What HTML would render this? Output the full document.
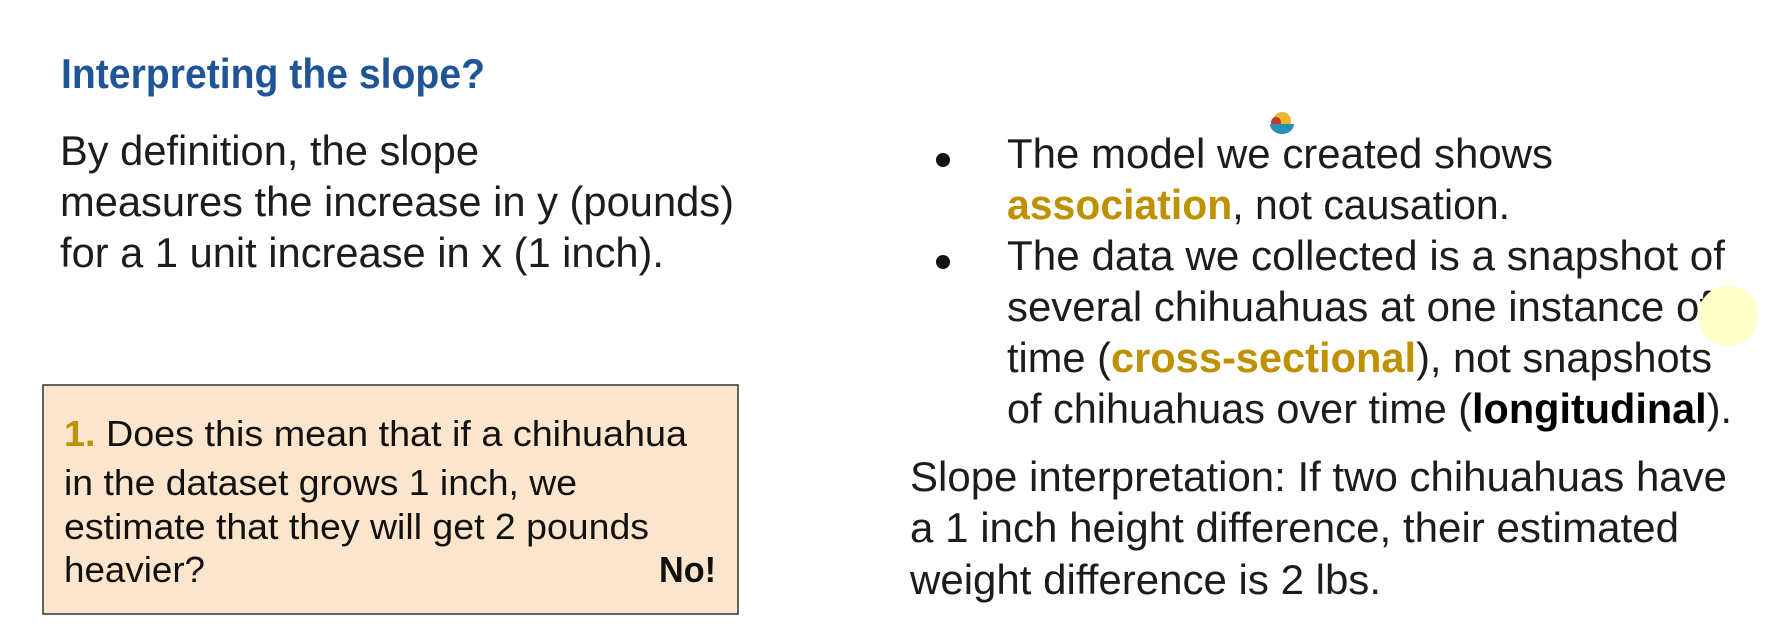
<!DOCTYPE html>
<html><head><meta charset="utf-8"><style>
html,body{margin:0;padding:0;background:#fff;}
svg{display:block;}
text{font-family:"Liberation Sans",sans-serif;}
.b{font-size:42px;fill:#1c1c1c;}
.s{font-size:36px;fill:#111;}
</style></head><body>
<svg width="1780" height="636" viewBox="0 0 1780 636">
<rect width="1780" height="636" fill="#fff"/>
<text x="61" y="88" font-size="42" font-weight="bold" fill="#1f5596" textLength="424" lengthAdjust="spacingAndGlyphs">Interpreting the slope?</text>
<g>
<text class="b" x="60" y="165" textLength="419" lengthAdjust="spacingAndGlyphs">By definition, the slope</text>
<text class="b" x="60" y="216" textLength="674" lengthAdjust="spacingAndGlyphs">measures the increase in y (pounds)</text>
<text class="b" x="60" y="267" textLength="604" lengthAdjust="spacingAndGlyphs">for a 1 unit increase in x (1 inch).</text>
</g>
<g>
<rect x="43" y="385" width="695" height="229" fill="#fce5cd" stroke="#333" stroke-width="1.5"/>
<text class="s" x="64" y="446" textLength="623" lengthAdjust="spacingAndGlyphs"><tspan fill="#bf9000" font-weight="bold">1.</tspan> Does this mean that if a chihuahua</text>
<text class="s" x="64" y="495" textLength="513" lengthAdjust="spacingAndGlyphs">in the dataset grows 1 inch, we</text>
<text class="s" x="64" y="539" textLength="585" lengthAdjust="spacingAndGlyphs">estimate that they will get 2 pounds</text>
<text class="s" x="64" y="582" textLength="141" lengthAdjust="spacingAndGlyphs">heavier?</text>
<text class="s" x="659" y="582" font-weight="bold" textLength="57" lengthAdjust="spacingAndGlyphs">No!</text>
</g>
<g>
<circle cx="943" cy="160" r="7" fill="#111"/>
<circle cx="943" cy="262" r="7" fill="#111"/>
<text class="b" x="1007" y="168" textLength="546" lengthAdjust="spacingAndGlyphs">The model we created shows</text>
<text class="b" x="1007" y="219" textLength="503" lengthAdjust="spacingAndGlyphs"><tspan fill="#bf9000" font-weight="bold">association</tspan>, not causation.</text>
<text class="b" x="1007" y="270" textLength="718" lengthAdjust="spacingAndGlyphs">The data we collected is a snapshot of</text>
<text class="b" x="1007" y="321" textLength="704" lengthAdjust="spacingAndGlyphs">several chihuahuas at one instance of</text>
<text class="b" x="1007" y="372" textLength="705" lengthAdjust="spacingAndGlyphs">time (<tspan fill="#bf9000" font-weight="bold">cross-sectional</tspan>), not snapshots</text>
<text class="b" x="1007" y="423" textLength="725" lengthAdjust="spacingAndGlyphs">of chihuahuas over time (<tspan font-weight="bold" fill="#000">longitudinal</tspan>).</text>
</g>
<g>
<text class="b" x="910" y="491" textLength="817" lengthAdjust="spacingAndGlyphs">Slope interpretation: If two chihuahuas have</text>
<text class="b" x="910" y="542" textLength="769" lengthAdjust="spacingAndGlyphs">a 1 inch height difference, their estimated</text>
<text class="b" x="910" y="594" textLength="471" lengthAdjust="spacingAndGlyphs">weight difference is 2 lbs.</text>
</g>
<g>
<circle cx="1282" cy="121" r="9" fill="#e8b730"/>
<circle cx="1276" cy="122" r="5" fill="#c0392b"/>
<path d="M1270 124 H1294 A12 10 0 0 1 1270 124 Z" fill="#2a8fb5"/>
</g>
<circle cx="1728" cy="316" r="30" fill="#ffffc8"/>
</svg>
</body></html>
